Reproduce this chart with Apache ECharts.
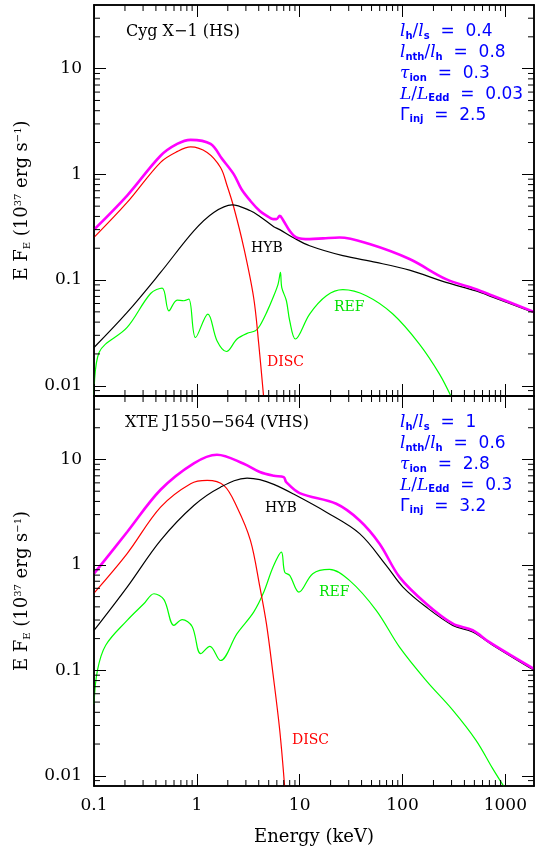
<!DOCTYPE html>
<html>
<head>
<meta charset="utf-8">
<script src="https://cdn.jsdelivr.net/npm/echarts@6/dist/echarts.min.js"></script>
<style>
html,body{margin:0;padding:0;background:#fff;}
#wrap{position:relative;width:535px;height:850px;}
#chart,#ticks{position:absolute;left:0;top:0;width:535px;height:850px;}
#ticks{pointer-events:none;}
</style>
</head>
<body>
<div id="wrap"><div id="chart"></div><div id="ticks"></div></div>
<script>
// energy range / flux range of both panels
const X_MIN = 0.1, X_MAX = 1900;
const Y_MIN = 0.008, Y_MAX = 40;

// tick values
const xMajor = [0.1, 1, 10, 100, 1000];
const xMinor = [0.2, 0.3, 0.4, 0.5, 0.6, 0.7, 0.8, 0.9, 2, 3, 4, 5, 6, 7, 8, 9,
  20, 30, 40, 50, 60, 70, 80, 90, 200, 300, 400, 500, 600, 700, 800, 900];
const yMajor = [0.01, 0.1, 1, 10];
const yMinor = [0.009, 0.02, 0.03, 0.04, 0.05, 0.06, 0.07, 0.08, 0.09,
  0.2, 0.3, 0.4, 0.5, 0.6, 0.7, 0.8, 0.9, 2, 3, 4, 5, 6, 7, 8, 9, 20, 30];

// Cyg X-1 (HS) : [E keV, E F_E]
const cygTotal = [[0.1, 0.30], [0.21, 0.63], [0.444, 1.50], [0.644, 1.94], [0.87, 2.12], [1.36, 1.94],
  [1.76, 1.40], [2.29, 1.0], [2.71, 0.726], [3.32, 0.56], [4.1, 0.45], [4.8, 0.405], [5.5, 0.377],
  [5.94, 0.377], [6.4, 0.405], [6.89, 0.37], [8.0, 0.292], [9.3, 0.253], [12.5, 0.244], [16.9, 0.248],
  [24.4, 0.253], [47.8, 0.219], [117, 0.158], [265, 0.102], [519, 0.082], [754, 0.071], [1900, 0.050]];
const cygHyb = [[0.1, 0.023], [0.21, 0.0494], [0.444, 0.118], [0.935, 0.292], [1.46, 0.436], [2.2, 0.515],
  [3.32, 0.453], [4.1, 0.40], [5.6, 0.32], [6.4, 0.30], [8.6, 0.253], [12.5, 0.211], [26.3, 0.17],
  [55.5, 0.147], [117, 0.124], [265, 0.095], [519, 0.079], [754, 0.069], [1900, 0.049]];
const cygDisc = [[0.1, 0.253], [0.21, 0.542], [0.444, 1.30], [0.65, 1.65], [0.87, 1.82], [1.26, 1.61],
  [1.70, 1.16], [1.97, 0.78], [2.29, 0.486], [2.86, 0.203], [3.57, 0.068], [4.0, 0.0248], [4.47, 0.0077]];
const cygRef = [[0.1, 0.0081], [0.112, 0.0206], [0.21, 0.0356], [0.355, 0.0746], [0.46, 0.084],
  [0.535, 0.0512], [0.644, 0.0647], [0.748, 0.0637], [0.836, 0.066], [0.971, 0.0286], [1.28, 0.0477],
  [1.57, 0.0267], [1.94, 0.0211], [2.46, 0.0277], [3.08, 0.0313], [3.71, 0.0331], [4.1, 0.037],
  [4.8, 0.05], [5.5, 0.068], [6.17, 0.0916], [6.5, 0.118], [6.7, 0.085], [7.43, 0.0637], [8.0, 0.0412],
  [9.08, 0.0277], [12.5, 0.0477], [18.2, 0.071], [26.3, 0.081], [44.4, 0.071], [80.6, 0.0477],
  [146, 0.0248], [229, 0.0129], [297, 0.0079]];

// XTE J1550-564 (VHS)
const xteTotal = [[0.1, 0.826], [0.21, 2.05], [0.444, 5.16], [0.935, 9.2], [1.57, 11.1], [2.86, 9.1],
  [4.1, 7.6], [5.6, 7.0], [7.0, 6.8], [7.4, 6.1], [10, 4.8], [22.7, 3.8], [38.3, 2.64], [59.8, 1.59],
  [93.6, 0.766], [170, 0.428], [308, 0.277], [481, 0.24], [700, 0.185], [1900, 0.103]];
const xteHyb = [[0.1, 0.239], [0.21, 0.616], [0.444, 1.71], [0.935, 3.66], [1.70, 5.46], [3.08, 6.65],
  [4.1, 6.43], [5.6, 5.8], [8.6, 4.73], [18.2, 3.16], [38.3, 1.98], [69.4, 0.99], [101, 0.616],
  [170, 0.398], [308, 0.267], [481, 0.231], [754, 0.173], [1900, 0.100]];
const xteDisc = [[0.1, 0.54], [0.21, 1.28], [0.444, 3.53], [0.87, 5.89], [1.26, 6.33], [1.83, 5.68],
  [2.46, 3.53], [3.32, 1.71], [4.1, 0.62], [4.75, 0.277], [5.5, 0.093], [6.4, 0.027], [7.15, 0.0078]];
const xteRef = [[0.1, 0.048], [0.108, 0.1], [0.13, 0.173], [0.21, 0.298], [0.305, 0.428], [0.383, 0.533],
  [0.479, 0.468], [0.599, 0.267], [0.72, 0.303], [0.90, 0.261], [1.09, 0.144], [1.34, 0.169],
  [1.70, 0.124], [2.46, 0.223], [3.57, 0.357], [4.47, 0.55], [5.5, 0.95], [6.64, 1.32], [7.15, 0.855],
  [8.0, 0.795], [9.84, 0.552], [13.4, 0.826], [19.5, 0.906], [30.5, 0.713], [55.5, 0.371],
  [93.6, 0.166], [170, 0.080], [308, 0.042], [519, 0.0217], [754, 0.0117], [977, 0.0078]];

// model parameters shown in each panel
const cygParams = ['0.4', '0.8', '0.3', '0.03', '2.5'];
const xteParams = ['1', '0.6', '2.8', '0.3', '3.2'];

const SERIF = 'DejaVu Serif';
const SANS = 'DejaVu Sans';

let grids = [
  { left: 94, right: 1, top: 5, height: 391 },
  { left: 94, right: 1, top: 396, height: 390 }
];

let fmtNum = function (v) {
  return String(+(+v).toPrecision(3));
};

/* ---------- main chart: frame, labels, spectra, annotations ---------- */
let chartIns = echarts.init(document.getElementById('chart'), null, { renderer: 'canvas' });

let xAxes = [], yAxes = [];
let yName = '{n|E F}{sb|E}{n| (10}{sp|37}{n| erg s}{sp|−1}{n|)}';
let labelStyle = { show: true, formatter: fmtNum, fontFamily: SERIF, fontSize: 17, color: '#000' };
grids.forEach((g, gi) => {
  ['bottom', 'top'].forEach(pos => {
    let main = (gi === 1 && pos === 'bottom');
    xAxes.push({
      type: 'log', gridIndex: gi, position: pos, min: X_MIN, max: X_MAX,
      axisLine: { show: true, onZero: false, lineStyle: { color: '#000', width: 1.5 } },
      axisTick: { show: false },
      axisLabel: main ? Object.assign({ customValues: xMajor, margin: 11 }, labelStyle) : { show: false },
      splitLine: { show: false },
      name: main ? 'Energy (keV)' : '',
      nameLocation: 'middle', nameGap: 42,
      nameTextStyle: { fontFamily: SERIF, fontSize: 18, color: '#000' }
    });
  });
  ['left', 'right'].forEach(pos => {
    let main = (pos === 'left');
    yAxes.push({
      type: 'log', gridIndex: gi, position: pos, min: Y_MIN, max: Y_MAX,
      axisLine: { show: true, onZero: false, lineStyle: { color: '#000', width: 1.5 } },
      axisTick: { show: false },
      axisLabel: main ? Object.assign({ customValues: yMajor, margin: 12 }, labelStyle) : { show: false },
      splitLine: { show: false },
      name: main ? yName : '',
      nameLocation: 'middle', nameGap: 62, nameRotate: 90,
      nameTextStyle: {
        color: '#000',
        rich: {
          n: { fontFamily: SERIF, fontSize: 18, color: '#000' },
          sb: { fontFamily: SERIF, fontSize: 10, color: '#000', padding: [9, 0, 0, 0] },
          sp: { fontFamily: SERIF, fontSize: 10, color: '#000', padding: [0, 0, 9, 0] }
        }
      }
    });
  });
});

let curve = function (gi, data, color, width) {
  return {
    type: 'line', xAxisIndex: gi * 2, yAxisIndex: gi * 2, data: data,
    showSymbol: false, smooth: 0.35, clip: true, silent: true,
    lineStyle: { color: color, width: width }, z: width > 2 ? 3 : 2
  };
};

let series = [
  curve(0, cygRef, '#00ff00', 1.2),
  curve(0, cygDisc, '#ff0000', 1.2),
  curve(0, cygHyb, '#000000', 1.2),
  curve(0, cygTotal, '#ff00ff', 2.6),
  curve(1, xteRef, '#00ff00', 1.2),
  curve(1, xteDisc, '#ff0000', 1.2),
  curve(1, xteHyb, '#000000', 1.2),
  curve(1, xteTotal, '#ff00ff', 2.6)
];

let paramRich = {
  i: { fontFamily: SERIF, fontStyle: 'italic', fontSize: 17, fill: '#0000ff' },
  s: { fontFamily: SANS, fontWeight: 'bold', fontSize: 10, fill: '#0000ff', padding: [9, 0, 0, 0] },
  n: { fontFamily: SANS, fontSize: 17, fill: '#0000ff' }
};
let paramLines = function (vals) {
  return [
    '{i|l}{s|h}{n|/}{i|l}{s|s}{n|  =  ' + vals[0] + '}',
    '{i|l}{s|nth}{n|/}{i|l}{s|h}{n|  =  ' + vals[1] + '}',
    '{i|τ}{s|ion}{n|  =  ' + vals[2] + '}',
    '{i|L}{n|/}{i|L}{s|Edd}{n|  =  ' + vals[3] + '}',
    '{n|Γ}{s|inj}{n|  =  ' + vals[4] + '}'
  ];
};

let annots = [];
let addText = function (x, y, text, color, size) {
  annots.push({
    type: 'text', x: x, y: y, silent: true,
    style: { text: text, fill: color, font: size + 'px "' + SERIF + '"', verticalAlign: 'middle', textAlign: 'left' }
  });
};
let addParams = function (x, y0, vals) {
  paramLines(vals).forEach((t, i) => {
    annots.push({
      type: 'text', x: x, y: y0 + i * 20.8, silent: true,
      style: { text: t, rich: paramRich, verticalAlign: 'middle', textAlign: 'left' }
    });
  });
};

addText(126, 32, 'Cyg X−1 (HS)', '#000', 16);
addParams(400, 32, cygParams);
addText(251, 248, 'HYB', '#000', 14);
addText(334, 307, 'REF', '#00e000', 14);
addText(267, 362, 'DISC', '#ff0000', 14);

addText(125, 423, 'XTE J1550−564 (VHS)', '#000', 16);
addParams(400, 423, xteParams);
addText(265, 508, 'HYB', '#000', 14);
addText(319, 592, 'REF', '#00e000', 14);
addText(292, 740, 'DISC', '#ff0000', 14);

chartIns.setOption({
  backgroundColor: '#fff',
  animation: false,
  grid: grids,
  xAxis: xAxes,
  yAxis: yAxes,
  series: series,
  graphic: annots
});

/* ---------- overlay chart: same grids and log axes, inward ticks only ---------- */
let tickIns = echarts.init(document.getElementById('ticks'), null, { renderer: 'canvas' });

let tX = [], tY = [];
grids.forEach((g, gi) => {
  ['bottom', 'top'].forEach(pos => {
    tX.push({
      type: 'log', gridIndex: gi, position: pos, min: X_MIN, max: X_MAX,
      axisLine: { show: true, onZero: false, lineStyle: { color: '#000', width: 1.5 } },
      axisTick: { show: true, inside: true, length: 12, customValues: xMajor, lineStyle: { color: '#000', width: 1 } },
      axisLabel: { show: false },
      splitLine: { show: false }
    });
  });
  ['left', 'right'].forEach(pos => {
    tY.push({
      type: 'log', gridIndex: gi, position: pos, min: Y_MIN, max: Y_MAX,
      axisLine: { show: true, onZero: false, lineStyle: { color: '#000', width: 1.5 } },
      axisTick: { show: true, inside: true, length: 12, customValues: yMajor, lineStyle: { color: '#000', width: 1 } },
      axisLabel: { show: false },
      splitLine: { show: false }
    });
  });
});

// minor ticks, placed with the overlay axes' scales
let minorTicks = function (gi, dim) {
  let data = dim === 'x' ? xMinor.map(v => [v, Y_MIN]) : yMinor.map(v => [X_MIN, v]);
  return {
    type: 'custom', xAxisIndex: gi * 2, yAxisIndex: gi * 2, data: data,
    renderItem: function (params, api) {
      let len = 6;
      let a, b;
      if (dim === 'x') {
        a = api.coord([api.value(0), Y_MIN]);
        b = api.coord([api.value(0), Y_MAX]);
        return { type: 'group', children: [
          { type: 'line', shape: { x1: a[0], y1: a[1], x2: a[0], y2: a[1] - len }, style: { stroke: '#000', lineWidth: 1 } },
          { type: 'line', shape: { x1: b[0], y1: b[1], x2: b[0], y2: b[1] + len }, style: { stroke: '#000', lineWidth: 1 } }
        ] };
      }
      a = api.coord([X_MIN, api.value(1)]);
      b = api.coord([X_MAX, api.value(1)]);
      return { type: 'group', children: [
        { type: 'line', shape: { x1: a[0], y1: a[1], x2: a[0] + len, y2: a[1] }, style: { stroke: '#000', lineWidth: 1 } },
        { type: 'line', shape: { x1: b[0], y1: b[1], x2: b[0] - len, y2: b[1] }, style: { stroke: '#000', lineWidth: 1 } }
      ] };
    }
  };
};

tickIns.setOption({
  animation: false,
  grid: grids,
  xAxis: tX,
  yAxis: tY,
  series: [minorTicks(0, 'x'), minorTicks(0, 'y'), minorTicks(1, 'x'), minorTicks(1, 'y')]
});
</script>
</body>
</html>
